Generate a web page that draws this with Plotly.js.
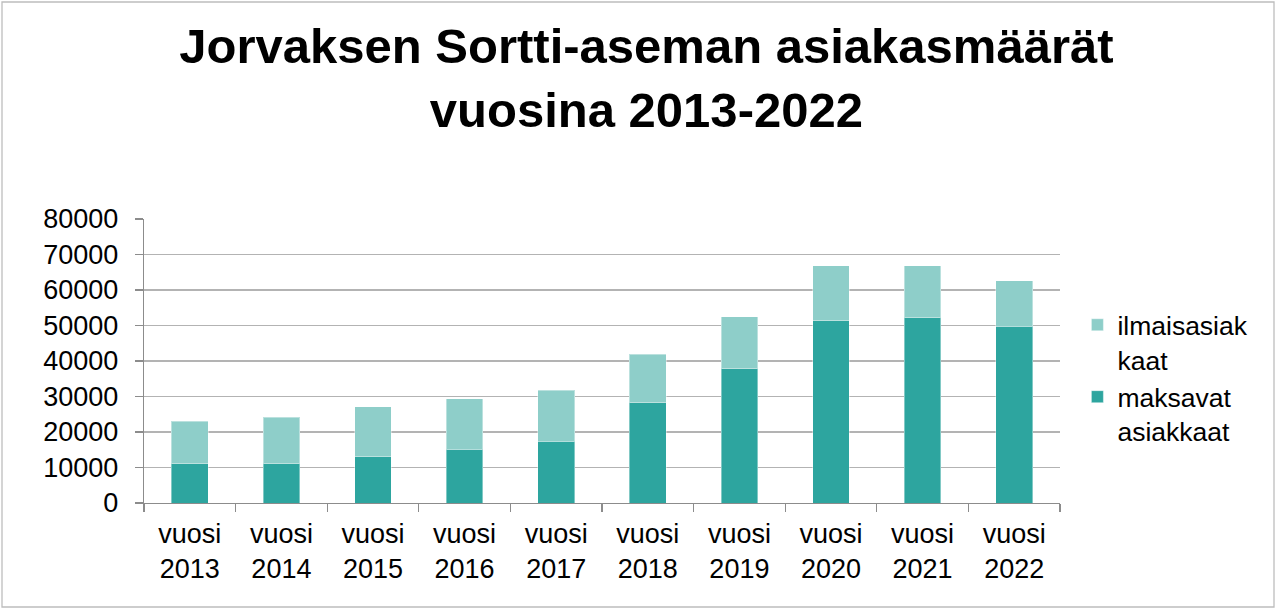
<!DOCTYPE html>
<html>
<head>
<meta charset="utf-8">
<script src="https://cdn.plot.ly/plotly-3.0.1.min.js"></script>
<style>
  html, body { margin: 0; padding: 0; background: #fff; }
  #chart { width: 1280px; height: 612px; }
</style>
</head>
<body>
<div id="chart"></div>
<script>
const categories = ["vuosi<br>2013", "vuosi<br>2014", "vuosi<br>2015", "vuosi<br>2016", "vuosi<br>2017",
                    "vuosi<br>2018", "vuosi<br>2019", "vuosi<br>2020", "vuosi<br>2021", "vuosi<br>2022"];
const maksavat = [11100, 11100, 13000, 15100, 17400, 28300, 37800, 51300, 52200, 49800];
const ilmaiset = [11900, 13000, 14100, 14200, 14400, 13600, 14600, 15600, 14700, 12800];
const yTicks = [0, 10000, 20000, 30000, 40000, 50000, 60000, 70000, 80000];

const FONT = "Liberation Sans, Arial, sans-serif";

const traces = [
  {
    type: "bar", name: "maksavat<br>asiakkaat", x: categories, y: maksavat,
    marker: { color: "#2DA59F", line: { color: "rgba(255,255,255,0.4)", width: 1 } }
  },
  {
    type: "bar", name: "ilmaisasiak<br>kaat", x: categories, y: ilmaiset,
    marker: { color: "#8ECEC9", line: { color: "rgba(255,255,255,0.4)", width: 1 } }
  }
];

const layout = {
  width: 1280, height: 612,
  barmode: "stack", bargap: 0.6,
  paper_bgcolor: "#fff", plot_bgcolor: "#fff",
  margin: { l: 144, r: 220, t: 219, b: 109 },
  font: { family: FONT, size: 27, color: "#000" },
  title: {
    text: "<b>Jorvaksen Sortti-aseman asiakasmäärät<br>vuosina 2013-2022</b>",
    font: { family: FONT, size: 49, color: "#000" },
    x: 0.505, xanchor: "center", xref: "container",
    y: 0.897, yanchor: "top", yref: "container"
  },
  xaxis: {
    type: "category",
    showline: true, linecolor: "#8c8c8c", linewidth: 1.3,
    ticks: "outside", tickson: "boundaries", ticklen: 8, tickcolor: "#8c8c8c", tickwidth: 1.3,
    showgrid: false, zeroline: false,
    tickfont: { family: FONT, size: 27, color: "#000" },
    ticklabelstandoff: 6
  },
  yaxis: {
    range: [0, 80000], tickvals: yTicks, ticktext: yTicks.map(String),
    showline: true, linecolor: "#8c8c8c", linewidth: 1.3,
    ticks: "outside", ticklen: 8, tickcolor: "#8c8c8c", tickwidth: 1.3,
    showgrid: true, gridcolor: "#b3b3b3", gridwidth: 1.3, zeroline: false,
    tickfont: { family: FONT, size: 27, color: "#000" },
    ticklabelstandoff: 11
  },
  legend: {
    x: 1.019, xanchor: "left", y: 0.44, yanchor: "middle",
    font: { family: FONT, size: 26.5, color: "#000" },
    valign: "top", tracegroupgap: 0, itemwidth: 30,
    bgcolor: "rgba(0,0,0,0)"
  },
  shapes: [{
    type: "rect", xref: "paper", yref: "paper",
    x0: (2 - 144) / 916, x1: (1274 - 144) / 916,
    y0: (503 - 607) / 284, y1: (503 - 2) / 284,
    line: { color: "#bdbdbd", width: 1.3 }, fillcolor: "rgba(0,0,0,0)", layer: "below"
  }],
  showlegend: true
};

Plotly.newPlot("chart", traces, layout, { displayModeBar: false, staticPlot: true });
</script>
</body>
</html>
